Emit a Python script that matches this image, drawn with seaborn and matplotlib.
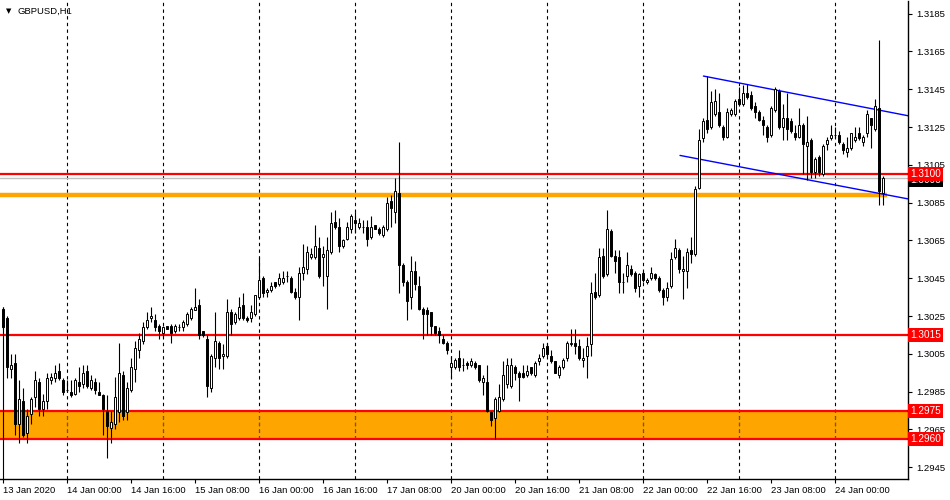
import matplotlib
matplotlib.use("Agg")
import matplotlib.pyplot as plt
import matplotlib.transforms as mtransforms
import seaborn as sns
import pandas as pd

# --- data (bar 0 = 13 Jan 2020 08:00) ---
symbol_label = "GBPUSD,H1"

opens = [
    1.3029, 1.3024, 1.2997, 1.3000, 1.2968, 1.2980, 1.2963, 1.2973, 1.2982, 1.2990,
    1.2976, 1.2980, 1.2991, 1.2992, 1.2996, 1.2991, 1.2986, 1.2985, 1.2984, 1.2990,
    1.2989, 1.2996, 1.2987, 1.2990, 1.2985, 1.2983, 1.2975, 1.2966, 1.2968, 1.2974,
    1.2994, 1.2974, 1.2986, 1.2997, 1.3007, 1.3012, 1.3019, 1.3024, 1.3023, 1.3020,
    1.3016, 1.3020, 1.3020, 1.3017, 1.3019, 1.3019, 1.3021, 1.3024, 1.3028, 1.3031,
    1.3017, 1.3013, 1.2987, 1.3003, 1.3011, 1.3004, 1.3004, 1.3027, 1.3022, 1.3024,
    1.3031, 1.3024, 1.3024, 1.3026, 1.3035, 1.3045, 1.3038, 1.3039, 1.3043, 1.3042,
    1.3043, 1.3046, 1.3045, 1.3038, 1.3035, 1.3048, 1.3050, 1.3056, 1.3056, 1.3061,
    1.3056, 1.3046, 1.3059, 1.3075, 1.3072, 1.3062, 1.3066, 1.3071, 1.3076, 1.3072,
    1.3072, 1.3072, 1.3067, 1.3073, 1.3071, 1.3068, 1.3071, 1.3086, 1.3080, 1.3090,
    1.3052, 1.3043, 1.3035, 1.3049, 1.3041, 1.3029, 1.3028, 1.3027, 1.3020, 1.3017,
    1.3013, 1.3011, 1.2998, 1.2998, 1.3003, 1.2999, 1.3000, 1.2999, 1.3000, 1.2999,
    1.2990, 1.2990, 1.2974, 1.2971, 1.2975, 1.2981, 1.2989, 1.2988, 1.2998, 1.2995,
    1.2995, 1.2994, 1.2998, 1.2994, 1.3001, 1.3004, 1.3009, 1.3004, 1.3001, 1.2994,
    1.2998, 1.3003, 1.3010, 1.3011, 1.3009, 1.3002, 1.3004, 1.3010, 1.3038, 1.3036,
    1.3057, 1.3047, 1.3070, 1.3057, 1.3056, 1.3043, 1.3046, 1.3050, 1.3048, 1.3041,
    1.3048, 1.3043, 1.3045, 1.3047, 1.3045, 1.3039, 1.3035, 1.3041, 1.3056, 1.3060,
    1.3049, 1.3049, 1.3060, 1.3058, 1.3093, 1.3119, 1.3129, 1.3125, 1.3132, 1.3133,
    1.3125, 1.3120, 1.3132, 1.3132, 1.3140, 1.3137, 1.3143, 1.3142, 1.3136, 1.3133,
    1.3129, 1.3125, 1.3121, 1.3134, 1.3144, 1.3125, 1.3130, 1.3128, 1.3122, 1.3120,
    1.3126, 1.3115, 1.3118, 1.3101, 1.3109, 1.3100, 1.3116, 1.3119, 1.3121, 1.3121,
    1.3116, 1.3112, 1.3114, 1.3118, 1.3122, 1.3117, 1.3122, 1.3130, 1.3124, 1.3135,
    1.3090,
]
highs = [
    1.3030, 1.3025, 1.3005, 1.3005, 1.2991, 1.2987, 1.2976, 1.2982, 1.2996, 1.2992,
    1.2984, 1.2995, 1.2995, 1.2999, 1.3000, 1.2992, 1.2991, 1.2991, 1.2992, 1.2998,
    1.2999, 1.2999, 1.2994, 1.2992, 1.2990, 1.2984, 1.2983, 1.2975, 1.2993, 1.3011,
    1.2996, 1.2990, 1.3003, 1.3012, 1.3016, 1.3022, 1.3027, 1.3030, 1.3026, 1.3021,
    1.3020, 1.3020, 1.3021, 1.3021, 1.3021, 1.3023, 1.3027, 1.3030, 1.3040, 1.3034,
    1.3017, 1.3015, 1.3005, 1.3027, 1.3012, 1.3010, 1.3034, 1.3029, 1.3027, 1.3035,
    1.3037, 1.3025, 1.3031, 1.3036, 1.3056, 1.3046, 1.3040, 1.3043, 1.3043, 1.3048,
    1.3049, 1.3049, 1.3046, 1.3040, 1.3051, 1.3063, 1.3062, 1.3061, 1.3073, 1.3067,
    1.3062, 1.3067, 1.3080, 1.3081, 1.3077, 1.3066, 1.3075, 1.3079, 1.3080, 1.3077,
    1.3076, 1.3076, 1.3078, 1.3073, 1.3072, 1.3073, 1.3088, 1.3089, 1.3098, 1.3117,
    1.3053, 1.3044, 1.3057, 1.3054, 1.3046, 1.3030, 1.3030, 1.3027, 1.3020, 1.3019,
    1.3015, 1.3012, 1.3004, 1.3003, 1.3007, 1.3003, 1.3001, 1.3003, 1.3001, 1.2999,
    1.2994, 1.2999, 1.2975, 1.2982, 1.2989, 1.3001, 1.3003, 1.3003, 1.2999, 1.2996,
    1.2999, 1.2999, 1.2998, 1.3001, 1.3005, 1.3011, 1.3011, 1.3007, 1.3001, 1.2999,
    1.3003, 1.3012, 1.3018, 1.3018, 1.3013, 1.3008, 1.3014, 1.3043, 1.3048, 1.3061,
    1.3061, 1.3081, 1.3071, 1.3060, 1.3060, 1.3048, 1.3059, 1.3052, 1.3049, 1.3048,
    1.3049, 1.3045, 1.3051, 1.3048, 1.3046, 1.3040, 1.3043, 1.3059, 1.3066, 1.3061,
    1.3057, 1.3061, 1.3067, 1.3094, 1.3124, 1.3130, 1.3152, 1.3144, 1.3145, 1.3143,
    1.3126, 1.3135, 1.3135, 1.3140, 1.3146, 1.3147, 1.3148, 1.3144, 1.3138, 1.3134,
    1.3131, 1.3126, 1.3136, 1.3146, 1.3145, 1.3137, 1.3143, 1.3130, 1.3126, 1.3135,
    1.3127, 1.3131, 1.3119, 1.3109, 1.3110, 1.3116, 1.3120, 1.3126, 1.3125, 1.3123,
    1.3117, 1.3120, 1.3122, 1.3125, 1.3125, 1.3121, 1.3134, 1.3130, 1.3140, 1.3171,
    1.3099,
]
lows = [
    1.3018, 1.2992, 1.2992, 1.2962, 1.2958, 1.2961, 1.2958, 1.2968, 1.2977, 1.2972,
    1.2972, 1.2976, 1.2989, 1.2990, 1.2991, 1.2983, 1.2985, 1.2982, 1.2983, 1.2985,
    1.2987, 1.2987, 1.2986, 1.2984, 1.2983, 1.2962, 1.2950, 1.2958, 1.2965, 1.2969,
    1.2970, 1.2970, 1.2985, 1.2990, 1.3003, 1.3010, 1.3018, 1.3022, 1.3017, 1.3013,
    1.3014, 1.3018, 1.3011, 1.3016, 1.3017, 1.3017, 1.3020, 1.3023, 1.3028, 1.3013,
    1.3014, 1.2982, 1.2985, 1.2998, 1.2997, 1.2997, 1.3003, 1.3015, 1.3021, 1.3023,
    1.3023, 1.3022, 1.3022, 1.3025, 1.3034, 1.3035, 1.3035, 1.3038, 1.3040, 1.3041,
    1.3042, 1.3043, 1.3037, 1.3034, 1.3023, 1.3044, 1.3047, 1.3055, 1.3055, 1.3045,
    1.3041, 1.3029, 1.3058, 1.3071, 1.3059, 1.3061, 1.3065, 1.3069, 1.3069, 1.3071,
    1.3069, 1.3062, 1.3066, 1.3071, 1.3068, 1.3067, 1.3070, 1.3072, 1.3074, 1.3037,
    1.3041, 1.3023, 1.3029, 1.3039, 1.3028, 1.3013, 1.3015, 1.3015, 1.3015, 1.3011,
    1.3010, 1.3005, 1.2992, 1.2997, 1.2996, 1.2996, 1.2997, 1.2998, 1.2997, 1.2990,
    1.2983, 1.2974, 1.2967, 1.2960, 1.2974, 1.2980, 1.2987, 1.2987, 1.2991, 1.2980,
    1.2992, 1.2993, 1.2994, 1.2993, 1.2999, 1.3003, 1.3004, 1.3000, 1.2995, 1.2992,
    1.2997, 1.3001, 1.3009, 1.3005, 1.3002, 1.2998, 1.2992, 1.3004, 1.3034, 1.3035,
    1.3045, 1.3046, 1.3056, 1.3048, 1.3037, 1.3037, 1.3043, 1.3046, 1.3038, 1.3035,
    1.3043, 1.3042, 1.3044, 1.3044, 1.3038, 1.3031, 1.3033, 1.3040, 1.3055, 1.3048,
    1.3034, 1.3040, 1.3053, 1.3057, 1.3092, 1.3117, 1.3122, 1.3124, 1.3131, 1.3125,
    1.3118, 1.3119, 1.3131, 1.3131, 1.3136, 1.3136, 1.3140, 1.3134, 1.3130, 1.3128,
    1.3121, 1.3117, 1.3120, 1.3133, 1.3124, 1.3118, 1.3118, 1.3122, 1.3118, 1.3119,
    1.3100, 1.3097, 1.3098, 1.3098, 1.3099, 1.3099, 1.3113, 1.3118, 1.3119, 1.3116,
    1.3111, 1.3109, 1.3113, 1.3117, 1.3118, 1.3115, 1.3120, 1.3114, 1.3123, 1.3084,
    1.3084,
]
closes = [
    1.3019, 1.2998, 1.2999, 1.2968, 1.2981, 1.2962, 1.2972, 1.2981, 1.2991, 1.2976,
    1.2980, 1.2992, 1.2993, 1.2995, 1.2992, 1.2985, 1.2986, 1.2983, 1.2991, 1.2988,
    1.2995, 1.2988, 1.2991, 1.2986, 1.2983, 1.2976, 1.2967, 1.2969, 1.2982, 1.2995,
    1.2972, 1.2987, 1.2998, 1.3008, 1.3013, 1.3019, 1.3023, 1.3025, 1.3019, 1.3017,
    1.3019, 1.3018, 1.3016, 1.3020, 1.3019, 1.3022, 1.3026, 1.3029, 1.3030, 1.3015,
    1.3015, 1.2988, 1.3004, 1.3012, 1.3003, 1.3005, 1.3027, 1.3021, 1.3026, 1.3030,
    1.3024, 1.3023, 1.3027, 1.3036, 1.3044, 1.3037, 1.3039, 1.3041, 1.3041, 1.3045,
    1.3045, 1.3046, 1.3038, 1.3035, 1.3048, 1.3051, 1.3059, 1.3058, 1.3062, 1.3046,
    1.3058, 1.3060, 1.3074, 1.3072, 1.3062, 1.3065, 1.3072, 1.3078, 1.3074, 1.3074,
    1.3072, 1.3066, 1.3072, 1.3071, 1.3069, 1.3072, 1.3085, 1.3082, 1.3091, 1.3052,
    1.3043, 1.3033, 1.3049, 1.3042, 1.3029, 1.3026, 1.3026, 1.3020, 1.3016, 1.3015,
    1.3011, 1.3007, 1.3000, 1.3002, 1.2998, 1.2999, 1.2999, 1.3001, 1.2998, 1.2991,
    1.2992, 1.2975, 1.2970, 1.2981, 1.2982, 1.2994, 1.2999, 1.2999, 1.2995, 1.2993,
    1.2993, 1.2996, 1.2995, 1.3000, 1.3003, 1.3008, 1.3005, 1.3001, 1.2995, 1.2998,
    1.3002, 1.3011, 1.3011, 1.3009, 1.3003, 1.3003, 1.3009, 1.3037, 1.3035, 1.3056,
    1.3046, 1.3071, 1.3057, 1.3054, 1.3043, 1.3043, 1.3052, 1.3047, 1.3040, 1.3047,
    1.3044, 1.3044, 1.3048, 1.3045, 1.3039, 1.3035, 1.3040, 1.3055, 1.3061, 1.3050,
    1.3050, 1.3059, 1.3058, 1.3092, 1.3118, 1.3128, 1.3124, 1.3138, 1.3139, 1.3126,
    1.3120, 1.3133, 1.3134, 1.3139, 1.3137, 1.3143, 1.3141, 1.3135, 1.3133, 1.3129,
    1.3126, 1.3120, 1.3135, 1.3145, 1.3125, 1.3130, 1.3124, 1.3123, 1.3120, 1.3126,
    1.3116, 1.3117, 1.3101, 1.3108, 1.3101, 1.3115, 1.3118, 1.3121, 1.3121, 1.3117,
    1.3113, 1.3114, 1.3122, 1.3120, 1.3119, 1.3120, 1.3132, 1.3126, 1.3136, 1.3091,
    1.3098,
]

time_ticks = [0, 16, 32, 48, 64, 80, 96, 112, 128, 144, 160, 176, 192, 208]
time_labels = [
    "13 Jan 2020", "14 Jan 00:00", "14 Jan 16:00", "15 Jan 08:00", "16 Jan 00:00",
    "16 Jan 16:00", "17 Jan 08:00", "20 Jan 00:00", "20 Jan 16:00", "21 Jan 08:00",
    "22 Jan 00:00", "22 Jan 16:00", "23 Jan 08:00", "24 Jan 00:00",
]
day_separators = [16, 40, 64, 88, 112, 136, 160, 184, 208]
price_ticks = [1.2945, 1.2965, 1.2985, 1.3005, 1.3025, 1.3045, 1.3065,
               1.3085, 1.3105, 1.3125, 1.3145, 1.3165, 1.3185]

red_levels = [1.3100, 1.3015]
zone_low, zone_high = 1.2960, 1.2975
orange_level = 1.3089
orange_end_bar = 221
channel_upper_x = [175.1, 226.25]
channel_upper_y = [1.3152, 1.3131]
channel_lower_x = [169.25, 226.25]
channel_lower_y = [1.3110, 1.3087]
bid_price = closes[-1]

x_min, x_max = -0.75, 226.25
y_min, y_max = 1.29388, 1.31917

# --- build frame ---
df = pd.DataFrame({"open": opens, "high": highs, "low": lows, "close": closes})
df["bar"] = range(len(df))
df["bull"] = df["close"] >= df["open"]

sns.set_theme(style="white")
plt.rcParams["font.family"] = ["Liberation Sans", "DejaVu Sans"]
FS = 6.8

fig = plt.figure(figsize=(9.5, 5), dpi=100)
ax = fig.add_axes([0, 21 / 500, 908 / 950, 478 / 500])
ax.set_facecolor("white")

# zone + level lines
ax.axhspan(zone_low, zone_high, color="#FFA500", lw=0, zorder=0.5)
ax.vlines(day_separators, zone_low, zone_high, colors="#1E5AFF",
          linestyles=(0, (3, 3)), lw=0.8, zorder=0.7)
ax.vlines(day_separators, y_min, y_max, colors="black",
          linestyles=(0, (3, 3)), lw=0.8, zorder=0.6)
for lvl in red_levels + [zone_low, zone_high]:
    ax.axhline(lvl, color="#FF0000", lw=1.6, zorder=1.2)
ax.hlines(orange_level, x_min, orange_end_bar, color="#FFA500", lw=3.2, zorder=1.1)
ax.axhline(bid_price, color="#C0C0C0", lw=1.0, zorder=1.0)
ax.vlines(0, y_min, highs[0], color="black", lw=0.8, zorder=2)

# channel
sns.lineplot(x=channel_upper_x, y=channel_upper_y, color="#0000FF", lw=1.0, ax=ax, zorder=1.5)
sns.lineplot(x=channel_lower_x, y=channel_lower_y, color="#0000FF", lw=1.0, ax=ax, zorder=1.5)

# candles
ax.vlines(df["bar"], df["low"], df["high"], color="black", lw=0.8, zorder=2)
body_colors = ["white" if b else "black" for b in df["bull"]]
ax.bar(df["bar"], df["close"] - df["open"], bottom=df["open"], width=0.6,
       color=body_colors, edgecolor="black", linewidth=0.7, zorder=3)

ax.set_xlim(x_min, x_max)
ax.set_ylim(y_min, y_max)

# axes styling
for side in ["left", "top"]:
    ax.spines[side].set_visible(False)
for side in ["right", "bottom"]:
    ax.spines[side].set_color("black")
    ax.spines[side].set_linewidth(1.0)

ax.yaxis.tick_right()
ax.set_yticks(price_ticks)
ax.set_yticklabels([f"{p:.4f}" for p in price_ticks])
ax.set_xticks(time_ticks)
ax.set_xticklabels(time_labels, ha="left")
ax.tick_params(axis="both", direction="out", length=3, width=0.8, color="black",
               labelsize=FS, labelcolor="black")
ax.tick_params(axis="y", pad=3, right=True, left=False)
ax.tick_params(axis="x", pad=2, bottom=True)
ax.set_xlabel("")
ax.set_ylabel("")
ax.grid(False)

# price tags on the right edge
trans = mtransforms.blended_transform_factory(ax.transAxes, ax.transData)
ax.text(1.002, bid_price - 0.00012, f"{bid_price:.4f}", transform=trans, fontsize=FS + 0.4,
        color="white", va="center", ha="left", clip_on=False, zorder=5,
        bbox=dict(boxstyle="square,pad=0.2", fc="black", ec="none"))
for lvl in red_levels + [zone_high, zone_low]:
    ax.text(1.002, lvl, f"{lvl:.4f}", transform=trans, fontsize=FS + 0.4,
            color="white", va="center", ha="left", clip_on=False, zorder=6,
            bbox=dict(boxstyle="square,pad=0.2", fc="#FF0000", ec="none"))

# symbol label
fig.text(6 / 950, 1 - 11 / 500, "\u25bc", fontsize=5, va="center", ha="left",
         color="black", family="DejaVu Sans")
fig.text(18 / 950, 1 - 11 / 500, symbol_label, fontsize=FS, va="center", ha="left", color="black")

fig.savefig("out.png", dpi=100)
